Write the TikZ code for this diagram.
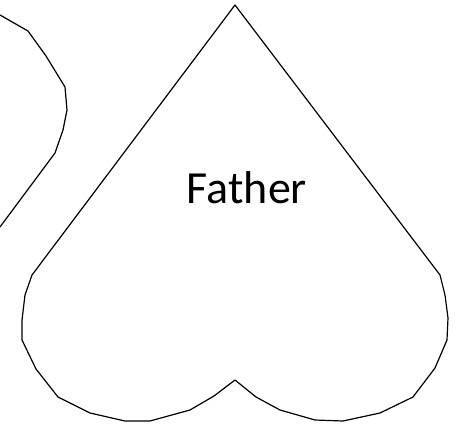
\documentclass[tikz,border=0pt]{standalone}
\usepackage{fontspec}
\setmainfont{Carlito}
\begin{document}
\begin{tikzpicture}[x=1pt,y=-1pt,
  outline/.style={draw=black,line width=1.2pt,line join=round}]
\useasboundingbox (0,0) rectangle (459,426);
% partial shape at the left edge
\draw[outline] (0,15) -- (28,31) -- (46,56) -- (65,87) -- (67,110) -- (63,130) -- (55,153) -- (0,227);
% heart
\draw[outline] (235,5) -- (32,275) -- (25,295) -- (22,320) -- (22,340) -- (36,369) -- (58,397)
  -- (90,413) -- (125,421) -- (150,421) -- (190,410) -- (214,396) -- (235,380)
  -- (256,397) -- (280,410) -- (315,420) -- (343,421) -- (380,413) -- (413,397)
  -- (435,368) -- (447,340) -- (448,318) -- (445,295) -- (440,275) -- cycle;
\node[anchor=base,inner sep=0pt,font=\fontsize{46}{50}\selectfont] (father) at (247,203) {Father};
\end{tikzpicture}
\end{document}
